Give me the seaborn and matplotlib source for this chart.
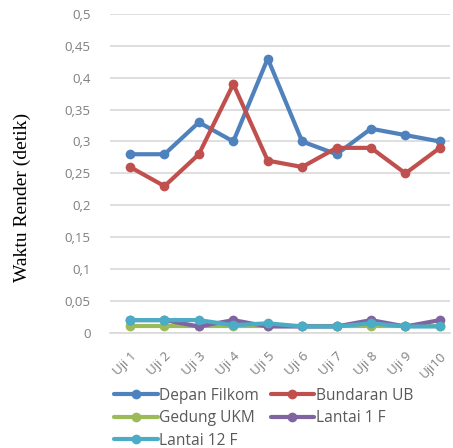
import matplotlib
matplotlib.use("Agg")
import matplotlib.pyplot as plt
from matplotlib.lines import Line2D
import seaborn as sns
import pandas as pd

categories = ["Uji 1", "Uji 2", "Uji 3", "Uji 4", "Uji 5", "Uji 6", "Uji 7", "Uji 8", "Uji 9", "Uji10"]
depan_filkom = [0.28, 0.28, 0.33, 0.30, 0.43, 0.30, 0.28, 0.32, 0.31, 0.30]
bundaran_ub = [0.26, 0.23, 0.28, 0.39, 0.27, 0.26, 0.29, 0.29, 0.25, 0.29]
gedung_ukm = [0.01, 0.01, 0.01, 0.01, 0.01, 0.01, 0.01, 0.01, 0.01, 0.01]
lantai_1f = [0.02, 0.02, 0.01, 0.02, 0.01, 0.01, 0.01, 0.02, 0.01, 0.02]
lantai_12f = [0.02, 0.02, 0.02, 0.012, 0.015, 0.01, 0.01, 0.015, 0.01, 0.01]
series_names = ["Depan Filkom", "Bundaran UB", "Gedung UKM", "Lantai 1 F", "Lantai 12 F"]
colors = ["#4F81BD", "#C0504D", "#9BBB59", "#8064A2", "#4BACC6"]
y_ticks = [0, 0.05, 0.1, 0.15, 0.2, 0.25, 0.3, 0.35, 0.4, 0.45, 0.5]

series_values = [depan_filkom, bundaran_ub, gedung_ukm, lantai_1f, lantai_12f]
rows = []
for name, vals in zip(series_names, series_values):
    for i, (cat, v) in enumerate(zip(categories, vals)):
        rows.append({"idx": i, "Uji": cat, "Seri": name, "Waktu": v})
df = pd.DataFrame(rows)

sns.set_style("white")
plt.rcParams["font.family"] = ["Open Sans", "DejaVu Sans"]

fig = plt.figure(figsize=(4.53, 4.48), dpi=100)
ax = fig.add_axes([0.243, 0.257, 0.75, 0.712])

palette = dict(zip(series_names, colors))
sns.lineplot(data=df, x="idx", y="Waktu", hue="Seri", hue_order=series_names,
             palette=palette, marker="o", markersize=7, markeredgewidth=0,
             linewidth=3, legend=False, ax=ax, sort=False)

tick_gray = "#7F7F7F"
ax.set_ylim(0, 0.5)
ax.set_xlim(-0.58, 9.29)
ax.set_yticks(y_ticks)
ax.set_yticklabels([("%g" % t).replace(".", ",") for t in y_ticks],
                   color=tick_gray, fontsize=9.5)
ax.set_xticks(range(len(categories)))
ax.set_xticklabels(categories, rotation=45, ha="right", rotation_mode="anchor",
                   color=tick_gray, fontsize=9.5)
ax.tick_params(axis="y", length=0, pad=14)
ax.tick_params(axis="x", length=0, pad=12)
ax.yaxis.grid(True, color="#D9D9D9", linewidth=1.2)
ax.set_axisbelow(True)
for s in ["top", "right", "left"]:
    ax.spines[s].set_visible(False)
ax.spines["bottom"].set_color("#D9D9D9")
ax.spines["bottom"].set_linewidth(1.2)
ax.set_xlabel("")
ax.set_ylabel("")
fig.text(0.049, 0.56, "Waktu Render (detik)", family="Liberation Serif",
         fontsize=14, color="black", rotation=90, ha="center", va="center")

# legend filled row by row: two entries per row
order = [0, 2, 4, 1, 3]
handles = [Line2D([0], [0], color=colors[i], linewidth=3, marker="o", markersize=7,
                  markeredgewidth=0) for i in order]
labels = [series_names[i] for i in order]
fig.legend(handles, labels, loc="upper left", bbox_to_anchor=(0.252, 0.135),
           ncol=2, frameon=False, fontsize=11.2, handlelength=2.8,
           handletextpad=0.1, columnspacing=0.75, labelspacing=0.42,
           labelcolor="#595959", borderaxespad=0, borderpad=0)

fig.savefig("out.png", dpi=100, facecolor="white")
